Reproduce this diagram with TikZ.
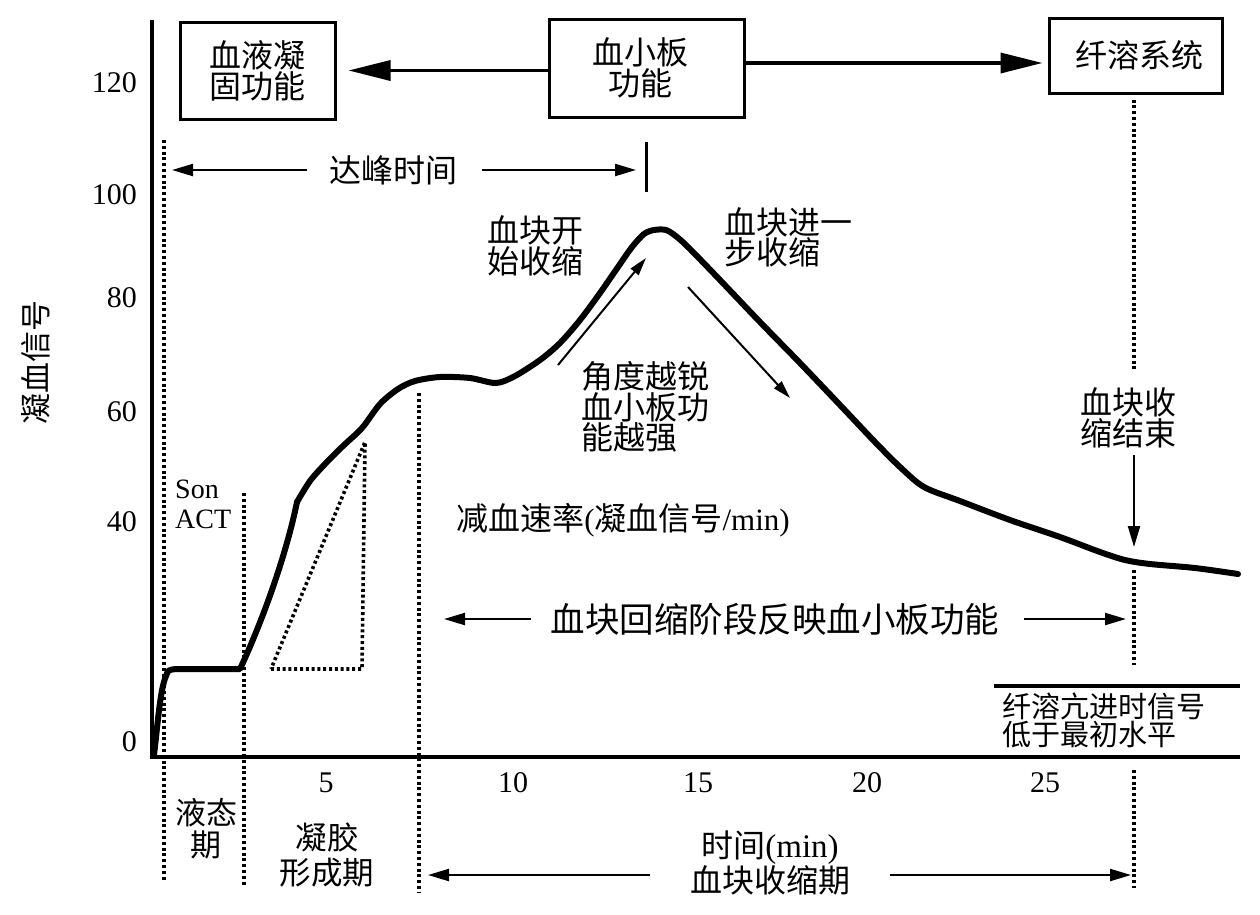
\documentclass[tikz,border=0pt]{standalone}
\usepackage{fontspec}
\setmainfont{Liberation Serif}
\newfontfamily\cjk{Noto Sans CJK SC}
\usetikzlibrary{arrows.meta}
\tikzset{
 box/.style={draw, line width=3pt, inner sep=0pt, align=center, font=\cjk\fontsize{32}{31}\selectfont},
 lbl/.style={inner sep=0pt, align=center, font=\cjk\fontsize{32}{31}\selectfont},
 lbll/.style={inner sep=0pt, align=left, font=\cjk\fontsize{32}{30.5}\selectfont},
 num/.style={inner sep=0pt, font=\fontsize{30}{30}\selectfont},
 axisline/.style={line width=3.5pt, line join=miter},
 curve/.style={line width=6pt, line join=round, line cap=round},
 dots/.style={line width=3.6pt, dash pattern=on 3pt off 2.8pt},
 bigarrow/.style={line width=3.5pt, -{Triangle[length=42pt,width=20pt]}},
 thinarrow/.style={line width=2.2pt, -{Triangle[length=21pt,width=12pt]}},
 slimarrow/.style={line width=2pt, -{Triangle[length=18pt,width=10pt]}},
}
\begin{document}
\begin{tikzpicture}[x=1pt,y=-1pt]
\useasboundingbox (0,0) rectangle (1260,914);
\fill[white] (0,0) rectangle (1260,914);

% axes
\coordinate (ytop) at (152,20);
\coordinate (orig) at (152,757);
\coordinate (xend) at (1240,757);
\draw[axisline] (ytop) -- (orig) -- (xend);

% y tick labels
\node[num, anchor=east] (y120) at (137,83) {120};
\node[num, anchor=east] (y100) at (137,195) {100};
\node[num, anchor=east] (y80) at (137,298) {80};
\node[num, anchor=east] (y60) at (137,412) {60};
\node[num, anchor=east] (y40) at (137,522) {40};
\node[num, anchor=east] (y0) at (137,742) {0};
% x tick labels
\node[num] (x5) at (326,783) {5};
\node[num] (x10) at (513,783) {10};
\node[num] (x15) at (698,783) {15};
\node[num] (x20) at (867,783) {20};
\node[num] (x25) at (1045,783) {25};

% y axis title
\node[lbl, rotate=90, font=\cjk\fontsize{31}{31}\selectfont] (ytitle) at (36,362) {凝血信号};

% top boxes
\node[box, minimum width=155pt, minimum height=97pt] (coag) at (257.5,70.5) {血液凝\\固功能};
\node[box, minimum width=195pt, minimum height=98pt] (plt) at (646.5,68) {\hspace*{-12pt}血小板\\\hspace*{-12pt}功能};
\node[box, minimum width=173pt, minimum height=75pt] (fib) at (1135.5,55.5) {\hspace*{8pt}纤溶系统};
\draw[bigarrow, shorten >=12pt] (plt.west |- coag.east) -- (coag.east);
\draw[bigarrow, shorten >=5pt] ([yshift=5pt]plt.east) -- ([yshift=5pt]plt.east -| fib.west);

% time to peak
\node[lbl] (tpk) at (393.5,170) {达峰时间};
\coordinate (tpL) at (172,170);
\coordinate (tpR) at (636,170);
\coordinate (barT) at (646,142);
\coordinate (barB) at (646,192);
\draw[thinarrow] ([xshift=-22pt]tpk.west) -- (tpL);
\draw[thinarrow] ([xshift=24pt]tpk.east) -- (tpR);
\draw[line width=3pt] (barT) -- (barB);

% dotted verticals
\coordinate (d1t) at (164,140);
\coordinate (d1b) at (164,882);
\coordinate (d2t) at (244,493);
\coordinate (d2b) at (244,887);
\coordinate (d3t) at (419,393);
\coordinate (d3b) at (419,892);
\draw[dots] (d1t) -- (d1b);
\draw[dots] (d2t) -- (d2b);
\draw[dots] (d3t) -- (d3b);
\coordinate (d4a) at (1134,370);
\coordinate (d4b) at (1134,570);
\coordinate (d4c) at (1134,665);
\coordinate (d4d) at (1134,770);
\coordinate (d4e) at (1134,888);
\draw[dots] ([yshift=-5pt]fib.south -| d4a) -- (d4a);
\draw[dots] (d4b) -- (d4c);
\draw[dots] (d4d) -- (d4e);

% dotted triangle
\coordinate (tA) at (271,669);
\coordinate (tB) at (362,669);
\coordinate (tC) at (365,442);
\draw[dots] (tA) -- (tB) -- (tC) -- cycle;

% main curve
\draw[curve] (154,755) .. controls (158,722) and (160,690) .. (166,676)
  .. controls (168,670) .. (176,669) -- (240,669)
  .. controls (262,622) and (286,556) .. (297,502);
\draw[curve] plot[smooth, tension=0.5] coordinates {
 (297,502) (310,481)
 (325,464) (343,446) (362,428) (380,404) (398,389) (415,381) (440,377)
 (470,378) (496,383) (515,376) (540,360) (560,343) (580,320) (600,293)
 (618,267) (632,247) (644,234) (654,230) (666,230) (677,237) (690,249)
 (720,280) (760,322) (800,363) (840,405) (875,442) (900,467) (924,487)
 (960,501) (1010,520) (1060,537) (1100,552) (1125,560) (1150,564)
 (1195,568) (1238,574)};

% slope arrows
\coordinate (uaS) at (558,365);
\coordinate (uaE) at (646,258);
\coordinate (daS) at (688,287);
\coordinate (daE) at (790,398);
\draw[slimarrow] (uaS) -- (uaE);
\draw[slimarrow] (daS) -- (daE);

% labels around curve
\node[lbl] (start) at (535,246) {血块开\\始收缩};
\node[lbll, anchor=west] (further) at (724.5,237.5) {血块进一\\步收缩};
\node[lbll, anchor=west] (angle) at (581.5,407) {角度越锐\\血小板功\\能越强};
\node[lbl] (rate) at (623,520) {减血速率{\rmfamily\fontsize{31}{31}\selectfont (}凝血信号{\rmfamily\fontsize{31}{31}\selectfont /min)}};
\node[lbl] (endret) at (1128,418) {血块收\\缩结束};
\coordinate (eaS) at (1134,455);
\coordinate (eaE) at (1134,547);
\draw[thinarrow] (eaS) -- (eaE);

% Son ACT
\node[num, anchor=base west, font=\fontsize{28}{28}\selectfont] (son) at (175,498) {Son};
\node[num, anchor=base west, font=\fontsize{28}{28}\selectfont] (act) at (175,528) {ACT};

% retraction reflects platelet function
\node[lbl, font=\cjk\fontsize{34.5}{34}\selectfont] (mid) at (775,619) {血块回缩阶段反映血小板功能};
\coordinate (mL) at (444,619);
\coordinate (mR) at (1126,619);
\draw[thinarrow] ([xshift=-20pt]mid.west) -- (mL);
\draw[thinarrow] ([xshift=25pt]mid.east) -- (mR);

% fibrinolysis note
\coordinate (fl1) at (994,686);
\coordinate (fl2) at (1240,686);
\draw[line width=3.5pt] (fl1) -- (fl2);
\node[lbll, anchor=west, font=\cjk\fontsize{29}{26.5}\selectfont] (fibnote) at (1002.5,720) {纤溶亢进时信号\\低于最初水平};

% bottom phase labels
\node[lbl, font=\cjk\fontsize{31}{32}\selectfont] (liq) at (206,829) {液态\\期};
\node[lbl, font=\cjk\fontsize{31.5}{35}\selectfont] (gel) at (327,855) {凝胶\\形成期};
\node[lbl, font=\cjk\fontsize{32}{33}\selectfont] (retr) at (770,863) {时间{\rmfamily\fontsize{33}{33}\selectfont (min)}\\血块收缩期};
\coordinate (bL) at (428,875);
\coordinate (bLs) at (650,875);
\coordinate (bRs) at (890,875);
\coordinate (bR) at (1131,875);
\draw[thinarrow] (bLs) -- (bL);
\draw[thinarrow] (bRs) -- (bR);
\end{tikzpicture}
\end{document}
